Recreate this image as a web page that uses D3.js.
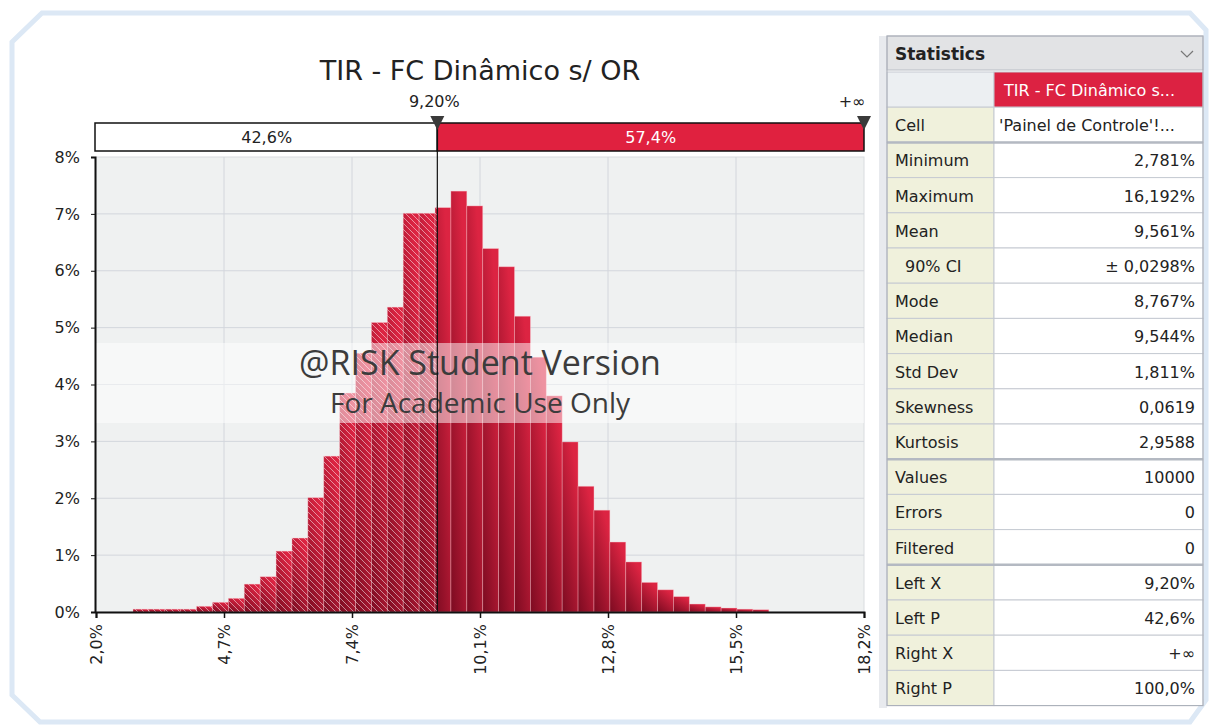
<!DOCTYPE html>
<html>
<head>
<meta charset="utf-8">
<script src="https://cdn.jsdelivr.net/npm/d3@7"></script>
<style>
  body { margin: 0; background: #fff; }
  svg { display: block; }
  text { font-family: 'DejaVu Sans', sans-serif; }
</style>
</head>
<body>
<div id="wrapper"></div>
<script>
// ---- data ----
const chartTitle = "TIR - FC Dinâmico s/ OR"
const minValue = 2.781
const maxValue = 16.192
// percentage of values in each of the 40 bins
const binValues = [0.05, 0.05, 0.05, 0.05, 0.10, 0.17, 0.24, 0.49, 0.62, 1.07,
                   1.30, 2.01, 2.74, 3.85, 4.55, 5.09, 5.36, 7.01, 7.01, 7.11,
                   7.40, 7.14, 6.39, 6.07, 5.20, 4.48, 3.80, 2.99, 2.21, 1.79,
                   1.23, 0.88, 0.52, 0.39, 0.27, 0.14, 0.09, 0.07, 0.05, 0.04]
const xTicks = [2.0, 4.7, 7.4, 10.1, 12.8, 15.5, 18.2]
const yTicks = [0, 1, 2, 3, 4, 5, 6, 7, 8]
const leftX = 9.20
const leftLabel = "9,20%"
const rightLabel = "+∞"
const leftPLabel = "42,6%"
const rightPLabel = "57,4%"

const statLabels = ["Cell", "Minimum", "Maximum", "Mean", "90% CI", "Mode", "Median", "Std Dev",
                    "Skewness", "Kurtosis", "Values", "Errors", "Filtered", "Left X", "Left P", "Right X", "Right P"]
const statValues = ["'Painel de Controle'!...", "2,781%", "16,192%", "9,561%", "± 0,0298%", "8,767%", "9,544%", "1,811%",
                    "0,0619", "2,9588", "10000", "0", "0", "9,20%", "42,6%", "+∞", "100,0%"]

// ---- dimensions ----
const width = 1211
const height = 725
const plot = { left: 96, right: 864, top: 157, bottom: 612 }

const svg = d3.select("#wrapper").append("svg")
    .attr("width", width)
    .attr("height", height)

const defs = svg.append("defs")
const grad = defs.append("linearGradient")
    .attr("id", "barGrad")
    .attr("x1", 0).attr("y1", 1).attr("x2", 0.6).attr("y2", 0)
grad.append("stop").attr("offset", "0%").attr("stop-color", "#7c0b21")
grad.append("stop").attr("offset", "100%").attr("stop-color", "#dc2442")

const hatch = defs.append("pattern")
    .attr("id", "hatch")
    .attr("patternUnits", "userSpaceOnUse")
    .attr("width", 6).attr("height", 6)
hatch.append("path")
    .attr("d", "M0,0 L6,6 M-1,5 L1,7 M5,-1 L7,1")
    .attr("stroke", "rgba(255,255,255,0.5)")
    .attr("stroke-width", 1)

// outer frame with chamfered corners
svg.append("path")
    .attr("d", "M12,42 L42,13 L1190,13 L1206,30 L1206,700 L1190,722 L40,722 L12,695 Z")
    .attr("fill", "none")
    .attr("stroke", "#dce8f5")
    .attr("stroke-width", 5)

// ---- scales ----
const xScale = d3.scaleLinear().domain([2.0, 18.2]).range([plot.left, plot.right])
const yScale = d3.scaleLinear().domain([0, 8]).range([plot.bottom, plot.top])

const binWidth = (maxValue - minValue) / binValues.length
const bins = binValues.map((v, i) => ({ x0: minValue + i * binWidth, x1: minValue + (i + 1) * binWidth, value: v }))

// ---- plot background & grid ----
svg.append("rect")
    .attr("x", plot.left).attr("y", plot.top)
    .attr("width", plot.right - plot.left).attr("height", plot.bottom - plot.top)
    .attr("fill", "#eff1f1")
    .attr("stroke", "#d9dcdf")

svg.append("g").selectAll("line")
    .data(yTicks.slice(1, -1))
    .join("line")
    .attr("x1", plot.left).attr("x2", plot.right)
    .attr("y1", d => yScale(d)).attr("y2", d => yScale(d))
    .attr("stroke", "#d3d6dc")

svg.append("g").selectAll("line")
    .data(xTicks.slice(1, -1))
    .join("line")
    .attr("y1", plot.top).attr("y2", plot.bottom)
    .attr("x1", d => xScale(d)).attr("x2", d => xScale(d))
    .attr("stroke", "#d3d6dc")

// ---- bars ----
const bars = svg.append("g")
bars.selectAll("rect")
    .data(bins)
    .join("rect")
    .attr("x", d => xScale(d.x0))
    .attr("width", d => xScale(d.x1) - xScale(d.x0))
    .attr("y", d => yScale(d.value))
    .attr("height", d => yScale(0) - yScale(d.value))
    .attr("fill", "url(#barGrad)")
    .attr("stroke", "rgba(255,190,200,0.45)")
    .attr("stroke-width", 0.8)

bars.selectAll("rect.hatch")
    .data(bins.filter(d => d.x0 < leftX))
    .join("rect")
    .attr("class", "hatch")
    .attr("x", d => xScale(d.x0))
    .attr("width", d => xScale(Math.min(d.x1, leftX)) - xScale(d.x0))
    .attr("y", d => yScale(d.value))
    .attr("height", d => yScale(0) - yScale(d.value))
    .attr("fill", "url(#hatch)")

// ---- watermark ----
svg.append("rect")
    .attr("x", plot.left).attr("y", 343)
    .attr("width", plot.right - plot.left).attr("height", 80)
    .attr("fill", "#ffffff").attr("opacity", 0.5)
svg.append("text")
    .attr("x", 480).attr("y", 375)
    .attr("text-anchor", "middle")
    .style("font-family", "'Open Sans', sans-serif")
    .style("font-size", "34px")
    .attr("fill", "#3c3c3c")
    .text("@RISK Student Version")
svg.append("text")
    .attr("x", 480).attr("y", 413)
    .attr("text-anchor", "middle")
    .style("font-family", "'Open Sans', sans-serif")
    .style("font-size", "28px")
    .attr("fill", "#3c3c3c")
    .text("For Academic Use Only")

// ---- axes ----
const xAxis = svg.append("g")
    .attr("transform", `translate(0,${plot.bottom})`)
    .call(d3.axisBottom(xScale).tickValues(xTicks).tickSize(6)
        .tickFormat(d => d.toFixed(1).replace(".", ",") + "%"))
xAxis.select(".domain").attr("stroke", "#111").attr("stroke-width", 2)
xAxis.selectAll(".tick line").attr("stroke", "#111").attr("stroke-width", 1.5)
xAxis.selectAll(".tick text")
    .attr("transform", "rotate(-90)")
    .attr("text-anchor", "end")
    .attr("x", -12).attr("y", 0).attr("dy", "0.35em")
    .style("font-size", "16px")
    .attr("fill", "#222")

const yAxis = svg.append("g")
    .attr("transform", `translate(${plot.left - 1},0)`)
    .call(d3.axisLeft(yScale).tickValues(yTicks).tickSize(4).tickFormat(d => d + "%"))
yAxis.select(".domain").attr("stroke", "#111").attr("stroke-width", 2)
yAxis.selectAll(".tick line").attr("stroke", "#111")
yAxis.selectAll(".tick text")
    .attr("x", -15)
    .style("font-size", "16px")
    .attr("fill", "#222")

// ---- delimiter bar ----
const xl = xScale(leftX)
svg.append("rect")
    .attr("x", plot.left - 1).attr("y", 123)
    .attr("width", xl - plot.left + 1).attr("height", 28)
    .attr("fill", "#fff").attr("stroke", "#111").attr("stroke-width", 1.5)
svg.append("rect")
    .attr("x", xl).attr("y", 123)
    .attr("width", plot.right - xl).attr("height", 28)
    .attr("fill", "#e0213f").attr("stroke", "#111").attr("stroke-width", 1.5)
svg.append("text")
    .attr("x", (plot.left + xl) / 2).attr("y", 143)
    .attr("text-anchor", "middle").style("font-size", "16px").attr("fill", "#222")
    .text(leftPLabel)
svg.append("text")
    .attr("x", (xl + plot.right) / 2).attr("y", 143)
    .attr("text-anchor", "middle").style("font-size", "16px").attr("fill", "#fff")
    .text(rightPLabel)

svg.append("line")
    .attr("x1", xl).attr("x2", xl)
    .attr("y1", 123).attr("y2", plot.bottom)
    .attr("stroke", "#111").attr("stroke-width", 1.2)

const markers = [{ x: xl, label: leftLabel }, { x: plot.right, label: rightLabel }]
svg.append("g").selectAll("path")
    .data(markers)
    .join("path")
    .attr("d", d => `M${d.x - 7},116 L${d.x + 7},116 L${d.x},130 Z`)
    .attr("fill", "#3a3a3a")
svg.append("g").selectAll("text")
    .data(markers)
    .join("text")
    .attr("x", (d, i) => i === 0 ? d.x - 3 : d.x - 12)
    .attr("y", 107)
    .attr("text-anchor", "middle")
    .style("font-size", "16px")
    .attr("fill", "#222")
    .text(d => d.label)

// ---- title ----
svg.append("text")
    .attr("x", 480).attr("y", 80)
    .attr("text-anchor", "middle")
    .style("font-size", "27px")
    .attr("fill", "#222")
    .text(chartTitle)

// ---- statistics table ----
const table = { left: 887, mid: 994, right: 1203, top: 36, headH: 34, rowH: 35.2 }

svg.append("rect")
    .attr("x", 879).attr("y", 36).attr("width", 8).attr("height", 672)
    .attr("fill", "#e8eaee")

svg.append("rect")
    .attr("x", table.left).attr("y", table.top)
    .attr("width", table.right - table.left).attr("height", table.headH)
    .attr("fill", "#e2e3e5").attr("stroke", "#b8bcc4")
svg.append("text")
    .attr("x", table.left + 8).attr("y", table.top + 24)
    .style("font-size", "17px").style("font-weight", "bold").attr("fill", "#222")
    .text("Statistics")
svg.append("path")
    .attr("d", `M${table.right - 22},${table.top + 15} L${table.right - 16},${table.top + 21} L${table.right - 10},${table.top + 15}`)
    .attr("fill", "none").attr("stroke", "#777").attr("stroke-width", 1.2)

const hy = table.top + table.headH + 2
svg.append("rect")
    .attr("x", table.left).attr("y", hy).attr("width", table.mid - table.left).attr("height", table.rowH)
    .attr("fill", "#eceff2").attr("stroke", "#c6cad2")
svg.append("rect")
    .attr("x", table.mid).attr("y", hy).attr("width", table.right - table.mid).attr("height", table.rowH)
    .attr("fill", "#dc2242").attr("stroke", "#c6cad2")
svg.append("text")
    .attr("x", table.mid + 10).attr("y", hy + 24)
    .style("font-size", "16px").attr("fill", "#fff")
    .text("TIR - FC Dinâmico s...")

const rowsTop = hy + table.rowH
const rows = svg.append("g").selectAll("g")
    .data(statLabels.map((l, i) => ({ label: l, value: statValues[i] })))
    .join("g")
    .attr("transform", (d, i) => `translate(0,${rowsTop + i * table.rowH})`)
rows.append("rect")
    .attr("x", table.left).attr("width", table.mid - table.left).attr("height", table.rowH)
    .attr("fill", "#f0f1dc").attr("stroke", "#c6cad2")
rows.append("rect")
    .attr("x", table.mid).attr("width", table.right - table.mid).attr("height", table.rowH)
    .attr("fill", "#ffffff").attr("stroke", "#c6cad2")
rows.append("text")
    .attr("x", d => d.label === "90% CI" ? table.left + 18 : table.left + 8)
    .attr("y", 24)
    .style("font-size", "16px").attr("fill", "#222")
    .text(d => d.label)
rows.append("text")
    .attr("x", d => d.label === "Cell" ? table.mid + 5 : table.right - 8)
    .attr("text-anchor", d => d.label === "Cell" ? "start" : "end")
    .attr("y", 24)
    .style("font-size", "16px").attr("fill", "#222")
    .text(d => d.value)

// group separators
const groupBreaks = ["Minimum", "Values", "Left X"]
svg.append("g").selectAll("line")
    .data(groupBreaks)
    .join("line")
    .attr("x1", table.left).attr("x2", table.right)
    .attr("y1", d => rowsTop + statLabels.indexOf(d) * table.rowH)
    .attr("y2", d => rowsTop + statLabels.indexOf(d) * table.rowH)
    .attr("stroke", "#b4b9c2").attr("stroke-width", 2.5)

svg.append("rect")
    .attr("x", table.left).attr("y", table.top)
    .attr("width", table.right - table.left).attr("height", rowsTop + statLabels.length * table.rowH - table.top)
    .attr("fill", "none").attr("stroke", "#a9aeb8")
</script>
</body>
</html>
